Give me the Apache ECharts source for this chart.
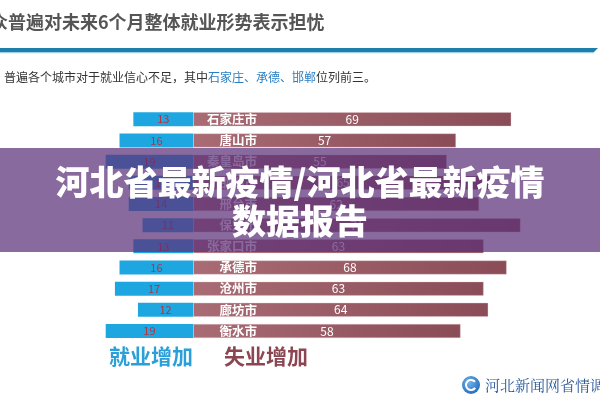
<!DOCTYPE html>
<html>
<head>
<meta charset="utf-8">
<script src="https://cdn.jsdelivr.net/npm/echarts@6.0.0/dist/echarts.min.js"></script>
<style>
  html, body { margin: 0; padding: 0; background: #fff; }
  #chart { width: 600px; height: 400px; }
</style>
</head>
<body>
<div id="chart"></div>
<script>
// 城市及就业/失业数据
const cities = ['石家庄市', '唐山市', '秦皇岛市', '邯郸市', '邢台市', '保定市', '张家口市', '承德市', '沧州市', '廊坊市', '衡水市']
const jobGain = [13, 16, 19, 14, 14, 11, 13, 16, 17, 12, 19]
const jobLoss = [69, 57, 55, 65, 62, 71, 63, 68, 63, 64, 58]
const legendNames = ['就业增加', '失业增加']
const headline = '众普遍对未来6个月整体就业形势表示担忧'
const subtitleParts = ['普遍各个城市对于就业信心不足，其中', '石家庄、承德、邯郸', '位列前三。']
const bannerLines = ['河北省最新疫情/河北省最新疫情', '数据报告']
const sourceText = '河北新闻网省情调查'

const FONT = '"Noto Sans CJK SC", "Noto Sans", sans-serif'

const chart = echarts.init(document.getElementById('chart'))

const option = {
  backgroundColor: '#fff',
  animation: false,
  textStyle: { fontFamily: FONT },
  grid: {
    left: 55,
    right: 15,
    top: 108.7,
    bottom: 58.4
  },
  xAxis: {
    type: 'value',
    min: -30,
    max: 85,
    show: false
  },
  yAxis: {
    type: 'category',
    data: cities,
    inverse: true,
    z: 10,
    axisLine: { show: false },
    axisTick: { show: false },
    splitLine: { show: false },
    axisLabel: {
      inside: true,
      margin: 202,
      align: 'right',
      color: '#fff',
      fontSize: 12.5,
      fontWeight: 'bold',
      fontFamily: FONT
    }
  },
  series: [
    {
      name: legendNames[0],
      type: 'bar',
      stack: 'all',
      barWidth: 14,
      data: jobGain.map(v => -v),
      itemStyle: { color: '#1ea6e0' },
      label: {
        show: true,
        position: 'inside',
        formatter: p => -p.value,
        color: '#b8323f',
        fontSize: 11,
        fontFamily: FONT
      }
    },
    {
      name: legendNames[1],
      type: 'bar',
      stack: 'all',
      barWidth: 14,
      data: jobLoss,
      itemStyle: {
        color: new echarts.graphic.LinearGradient(0, 0, 1, 0, [
          { offset: 0, color: '#a96c75' },
          { offset: 1, color: '#8a4d57' }
        ]),
        borderColor: 'rgba(230,200,205,0.7)',
        borderWidth: 0.5
      },
      label: {
        show: true,
        position: 'inside',
        color: '#fff',
        fontSize: 12,
        fontFamily: FONT
      }
    }
  ],
  graphic: [
    // 標題
    {
      type: 'text', x: -10, y: 22, z: 20,
      style: { text: headline, font: 'bold 18px ' + FONT, fill: '#555', verticalAlign: 'middle' }
    },
    {
      type: 'polygon', z: 20,
      shape: { points: [[0, 48], [598, 48], [594, 52], [0, 52]] },
      style: { fill: '#1f7fab' }
    },
    {
      type: 'rect', z: 20,
      shape: { x: 0, y: 52, width: 594, height: 1.2 },
      style: { fill: '#9fd0e4' }
    },
    {
      type: 'text', x: 4, y: 77, z: 20,
      style: {
        text: '{a|' + subtitleParts[0] + '}{b|' + subtitleParts[1] + '}{a|' + subtitleParts[2] + '}',
        verticalAlign: 'middle',
        rich: {
          a: { fontSize: 12, fontFamily: FONT, fill: '#333' },
          b: { fontSize: 12, fontFamily: FONT, fill: '#2a7fc4' }
        }
      }
    },
    // 圖例文字
    {
      type: 'text', x: 109, y: 356, z: 20,
      style: { text: legendNames[0], font: 'bold 21px ' + FONT, fill: '#2ba0d8', verticalAlign: 'middle' }
    },
    {
      type: 'text', x: 224, y: 356, z: 20,
      style: { text: legendNames[1], font: 'bold 21px ' + FONT, fill: '#8b4651', verticalAlign: 'middle' }
    },
    // 來源標誌
    {
      type: 'circle', z: 20,
      shape: { cx: 471, cy: 385, r: 9 },
      style: {
        fill: new echarts.graphic.RadialGradient(0.4, 0.35, 0.8, [
          { offset: 0, color: '#6fb4ef' },
          { offset: 1, color: '#1c5fb0' }
        ])
      }
    },
    {
      type: 'arc', z: 21,
      shape: { cx: 471, cy: 385, r: 5, startAngle: 0.6, endAngle: 5.6 },
      style: { stroke: '#fff', lineWidth: 2, fill: null }
    },
    {
      type: 'text', x: 485, y: 385, z: 20,
      style: { text: sourceText, font: '15px "Noto Serif CJK SC", ' + FONT, fill: '#2d5a9a', verticalAlign: 'middle' }
    },
    // 紫色橫幅
    {
      type: 'rect', z: 100,
      shape: { x: 0, y: 148, width: 600, height: 104 },
      style: { fill: 'rgba(92,49,120,0.72)' }
    },
    {
      type: 'text', x: 300, y: 182, z: 101,
      style: {
        text: bannerLines[0], font: '900 34px ' + FONT, fill: '#fff',
        align: 'center', verticalAlign: 'middle',
        shadowColor: 'rgba(0,0,0,0.3)', shadowBlur: 2
      }
    },
    {
      type: 'text', x: 300, y: 221, z: 101,
      style: {
        text: bannerLines[1], font: '900 34px ' + FONT, fill: '#fff',
        align: 'center', verticalAlign: 'middle',
        shadowColor: 'rgba(0,0,0,0.3)', shadowBlur: 2
      }
    }
  ]
}

chart.setOption(option)
</script>
</body>
</html>
